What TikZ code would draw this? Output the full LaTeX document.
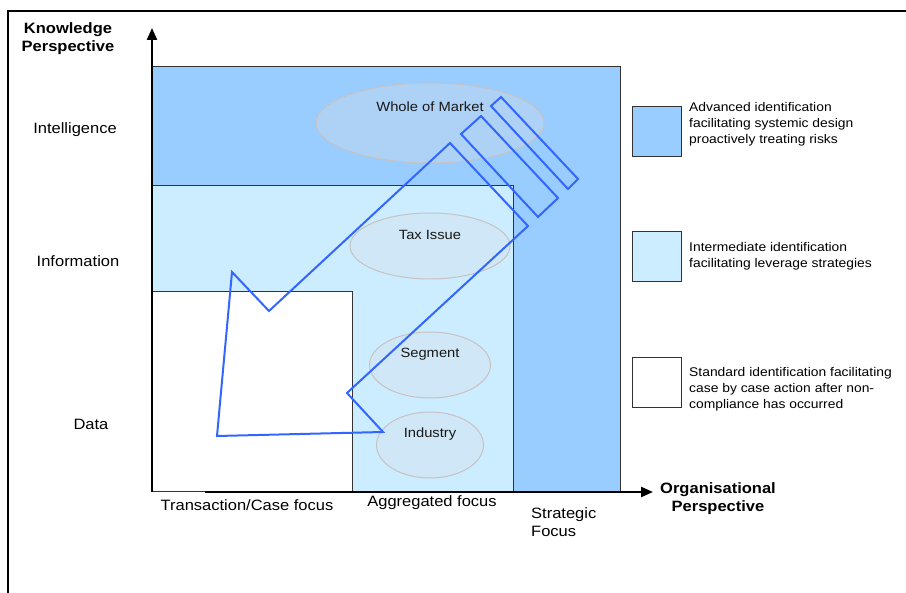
\documentclass[tikz,border=0pt]{standalone}
\usepackage{fontspec}
\setmainfont{Liberation Sans}[FakeStretch=1.1]
\usetikzlibrary{arrows.meta,shapes.geometric}
\definecolor{stratblue}{HTML}{99CCFF}
\definecolor{aggblue}{HTML}{CCECFF}
\definecolor{trackblue}{HTML}{3366FF}
\definecolor{ringgray}{HTML}{C8C2C2}
\definecolor{ringfill}{RGB}{213,223,231}
\tikzset{axis/.style={line width=2.2pt,-{Triangle[length=12pt,width=10pt]}}}

\begin{document}
\begin{tikzpicture}[x=1pt,y=-1pt,
    band/.style={draw=black!80,line width=1pt},
    zone/.style={ellipse,draw=ringgray,fill=ringfill,fill opacity=0.35,line width=1pt,inner sep=0pt},
    zonetxt/.style={font=\fontsize{13.4}{16}\selectfont,text=black!90},
    lab/.style={font=\fontsize{15}{18}\selectfont,align=center},
    head/.style={font=\bfseries\fontsize{15}{18}\selectfont,align=center},
    key/.style={draw=black!80,line width=1pt,minimum width=49pt,minimum height=50pt,inner sep=0pt},
    keytxt/.style={font=\fontsize{12.6}{16}\selectfont,align=left,anchor=west,inner sep=0pt},
    track/.style={draw=trackblue,line width=2pt,line join=miter}]
    \useasboundingbox (0,0) rectangle (906,593);

    %bands
    \draw[band,fill=stratblue] (152,67) rectangle (620,492);
    \draw[band,fill=aggblue] (152,186) rectangle (513,492);
    \draw[band,fill=white] (152,292) rectangle (352,492);

    %zones
    \node[zone,minimum width=228pt,minimum height=80pt] (market) at (430,123) {};
    \node[zone,minimum width=160pt,minimum height=66pt] (tax) at (430,246) {};
    \node[zone,minimum width=121pt,minimum height=66pt] (segment) at (430,365) {};
    \node[zone,minimum width=107pt,minimum height=66pt] (industry) at (430,445) {};
    \node[zonetxt] (markettxt) at ([yshift=16pt]market.center) {Whole of Market};
    \node[zonetxt] (taxtxt) at ([yshift=11pt]tax.center) {Tax Issue};
    \node[zonetxt] (segmenttxt) at ([yshift=11pt]segment.center) {Segment};
    \node[zonetxt] (industrytxt) at ([yshift=11pt]industry.center) {Industry};

    %tracks
    \draw[track] (217,436) -- (383,432) -- (347,393) -- (528,226) -- (450,143) -- (269,311) -- (232,272) -- cycle;
    \draw[track] (461,134) -- (481,116) -- (558,198) -- (538,217) -- cycle;
    \draw[track] (491,106) -- (501,97) -- (578,179) -- (568,189) -- cycle;

    %axes
    \coordinate (O) at (152,492);
    \coordinate (ytip) at (152,28);
    \coordinate (xstart) at (205,492);
    \coordinate (xtip) at (653,492);
    \draw[axis] (O) to (ytip);
    \draw[axis] (xstart) to (xtip);

    %levels
    \node[head] (know) at (68,39) {Knowledge\\Perspective};
    \node[lab] (intel) at (75,130) {Intelligence};
    \node[lab] (info) at (78,261) {Information};
    \node[lab] (data) at (91,424) {Data};

    %focus
    \node[lab] (trans) at (247,505) {Transaction/Case focus};
    \node[lab] (aggr) at (432,503) {Aggregated focus};
    \node[lab,align=left,anchor=west,inner sep=0pt] (strat) at (531,522) {Strategic\\Focus};
    \node[head] (org) at (718,499) {Organisational\\Perspective};

    %key
    \node[key,fill=stratblue] (k1) at (657,132) {};
    \node[key,fill=aggblue] (k2) at (657,257) {};
    \node[key,fill=white] (k3) at (657,383) {};
    \node[keytxt] (k1txt) at ([xshift=7pt,yshift=8pt]k1.east) {Advanced identification\\facilitating systemic design\\proactively treating risks};
    \node[keytxt] (k2txt) at ([xshift=7pt,yshift=1pt]k2.east) {Intermediate identification\\facilitating leverage strategies};
    \node[keytxt] (k3txt) at ([xshift=7pt,yshift=-6pt]k3.east) {Standard identification facilitating\\case by case action after non-\\compliance has occurred};

    %frame
    \draw[line width=2pt] (8,593) -- (8,11) -- (906,11);
\end{tikzpicture}
\end{document}
